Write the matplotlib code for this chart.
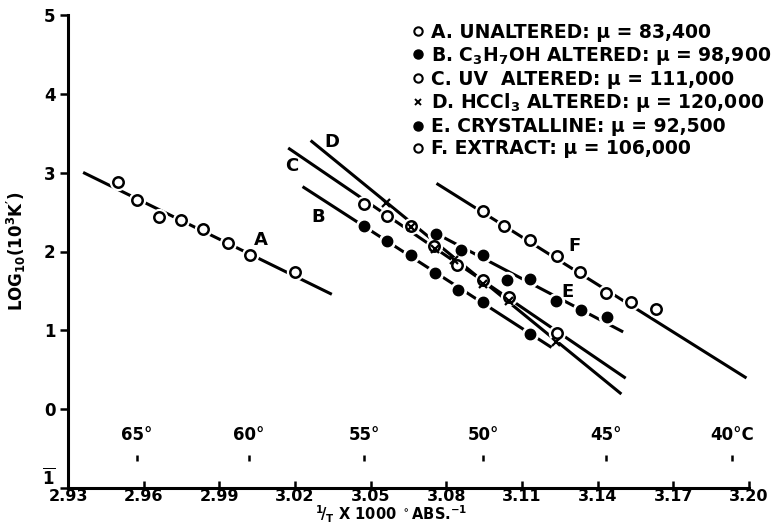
import matplotlib
matplotlib.use("Agg")
import matplotlib.pyplot as plt
from matplotlib.lines import Line2D

plt.rcParams['font.family'] = ['DejaVu Sans']
plt.rcParams['mathtext.fontset'] = 'dejavusans'
plt.rcParams['mathtext.default'] = 'regular'

# ---- data ----
A_x = [2.9497, 2.9572, 2.9662, 2.9747, 2.9836, 2.9933, 3.0021, 3.0201]
A_y = [2.886, 2.655, 2.433, 2.396, 2.290, 2.111, 1.956, 1.734]
A_line_x = [2.936, 3.0346]
A_line_y = [3.003, 1.457]

B_x = [3.0474, 3.0563, 3.0658, 3.0756, 3.0847, 3.0946, 3.1131]
B_y = [2.328, 2.139, 1.951, 1.721, 1.514, 1.361, 0.948]
B_line_x = [3.0230, 3.1217]
B_line_y = [2.823, 0.783]

C_x = [3.0474, 3.0563, 3.0659, 3.0752, 3.0843, 3.0946, 3.1049, 3.1237]
C_y = [2.600, 2.454, 2.320, 2.067, 1.834, 1.637, 1.428, 0.971]
C_line_x = [3.0173, 3.1511]
C_line_y = [3.313, 0.393]

D_x = [3.0559, 3.0659, 3.0754, 3.0830, 3.0945, 3.1048, 3.1234]
D_y = [2.613, 2.312, 2.035, 1.890, 1.583, 1.369, 0.854]
D_line_x = [3.0262, 3.1494]
D_line_y = [3.408, 0.192]

E_x = [3.0761, 3.0860, 3.0946, 3.1042, 3.1131, 3.1236, 3.1332, 3.1436]
E_y = [2.220, 2.016, 1.951, 1.643, 1.652, 1.369, 1.263, 1.165]
E_line_x = [3.0747, 3.1501]
E_line_y = [2.249, 0.980]

F_x = [3.0946, 3.1029, 3.1133, 3.1237, 3.1329, 3.1432, 3.1534, 3.1633]
F_y = [2.509, 2.320, 2.142, 1.943, 1.742, 1.470, 1.357, 1.265]
F_line_x = [3.0761, 3.1990]
F_line_y = [2.864, 0.395]

curve_labels = ['A', 'B', 'C', 'D', 'E', 'F']
curve_label_x = [3.0066, 3.0290, 3.0187, 3.0345, 3.1279, 3.1309]
curve_label_y = [2.152, 2.433, 3.087, 3.388, 1.482, 2.069]

legend_labels = [
    'A. UNALTERED: μ = 83,400',
    'B. C$_3$H$_7$OH ALTERED: μ = 98,900',
    'C. UV  ALTERED: μ = 111,000',
    'D. HCCl$_3$ ALTERED: μ = 120,000',
    'E. CRYSTALLINE: μ = 92,500',
    'F. EXTRACT: μ = 106,000',
]

x_ticks = [2.93, 2.96, 2.99, 3.02, 3.05, 3.08, 3.11, 3.14, 3.17, 3.20]
x_tick_labels = ['2.93', '2.96', '2.99', '3.02', '3.05', '3.08', '3.11', '3.14', '3.17', '3.20']
y_ticks = [-1, 0, 1, 2, 3, 4, 5]
y_tick_labels = [r'$\overline{1}$', '0', '1', '2', '3', '4', '5']

temps_C = [65, 60, 55, 50, 45, 40]
temp_labels = ['65°', '60°', '55°', '50°', '45°', '40°C']

# ---- figure ----
fig = plt.figure(figsize=(7.78, 5.27), dpi=100)
ax_bot = 488
ax = fig.add_axes([68 / 778, 1 - ax_bot / 527, 681 / 778, (ax_bot - 15) / 527])
ax.set_xlim(2.93, 3.20)
ax.set_ylim(-1, 5)

lw = 2.2
K = 'black'

# lines
for lx, ly in [(A_line_x, A_line_y), (B_line_x, B_line_y), (C_line_x, C_line_y),
               (D_line_x, D_line_y), (E_line_x, E_line_y), (F_line_x, F_line_y)]:
    ax.plot(lx, ly, color=K, lw=lw, solid_capstyle='butt', zorder=2)

ms = 7.5
halo = dict(linestyle='None', marker='o', ms=ms + 4, mfc='white', mec='white', zorder=3)
# white halos to create gaps in lines
for px, py in [(A_x, A_y), (B_x, B_y), (C_x, C_y), (E_x, E_y), (F_x, F_y)]:
    ax.plot(px, py, **halo)

open_kw = dict(linestyle='None', marker='o', ms=ms, mfc='white', mec=K, mew=1.8, zorder=4)
fill_kw = dict(linestyle='None', marker='o', ms=ms, mfc=K, mec=K, mew=1.0, zorder=4)
ax.plot(A_x, A_y, **open_kw)
ax.plot(B_x, B_y, **fill_kw)
ax.plot(C_x, C_y, **open_kw)
ax.plot(E_x, E_y, **fill_kw)
ax.plot(F_x, F_y, **open_kw)
ax.plot(D_x, D_y, linestyle='None', marker='x', ms=6, mec=K, mew=1.6, zorder=5)

# curve letters
for t, x, y in zip(curve_labels, curve_label_x, curve_label_y):
    ax.text(x, y, t, fontsize=13, fontweight='bold', ha='center', va='center')

# temperature scale (°C) inside the plot
temp_x = [1000.0 / (t + 273.15) for t in temps_C]
ax.plot(temp_x, [-0.62] * len(temp_x), linestyle='None', marker='|', ms=5, mew=1.8, color=K)
for x, t in zip(temp_x, temp_labels):
    ax.text(x, -0.33, t, fontsize=12, fontweight='bold', ha='center', va='center')

# axes styling
for s in ['top', 'right']:
    ax.spines[s].set_visible(False)
for s in ['left', 'bottom']:
    ax.spines[s].set_linewidth(2.2)
ax.set_xticks(x_ticks)
ax.set_xticklabels(x_tick_labels, fontsize=11.5, fontweight='bold')
ax.set_yticks(y_ticks)
ax.set_yticklabels(y_tick_labels, fontsize=12, fontweight='bold')
ax.tick_params(axis='x', direction='in', length=5, width=1.8, pad=1)
ax.tick_params(axis='y', direction='out', length=6, width=1.8, pad=3)
# lift the bottom y label so it clears the x tick labels
ax.get_yticklabels()[0].set_va('bottom')

ax.set_xlabel(r'$^1\!/_T$ X 1000 $^\circ$ABS.$^{-1}$', fontsize=10.5, fontweight='bold')
ax.xaxis.label.set_va('center')
ax.xaxis.set_label_coords(0.475, -26 / (ax_bot - 15))
ax.set_ylabel(r'LOG$_{10}$(10$^3$K$^\prime$)', fontsize=12, fontweight='bold', labelpad=10)

# legend
handles = [
    Line2D([], [], linestyle='None', marker='o', ms=6, mfc='white', mec=K, mew=1.5),
    Line2D([], [], linestyle='None', marker='o', ms=6.5, mfc=K, mec=K),
    Line2D([], [], linestyle='None', marker='o', ms=6, mfc='white', mec=K, mew=1.5),
    Line2D([], [], linestyle='None', marker='x', ms=5, mec=K, mew=1.4),
    Line2D([], [], linestyle='None', marker='o', ms=6.5, mfc=K, mec=K),
    Line2D([], [], linestyle='None', marker='o', ms=6, mfc='white', mec=K, mew=1.5),
]
leg = ax.legend(handles, legend_labels, loc='upper left',
                bbox_to_anchor=(412 / 778, 1 - 23 / 527), bbox_transform=fig.transFigure,
                frameon=False, handlelength=0.6, handletextpad=0.4, labelspacing=0.15,
                borderpad=0, borderaxespad=0, prop=dict(size=13.5, weight='bold'))

fig.savefig('out.png', dpi=100)
